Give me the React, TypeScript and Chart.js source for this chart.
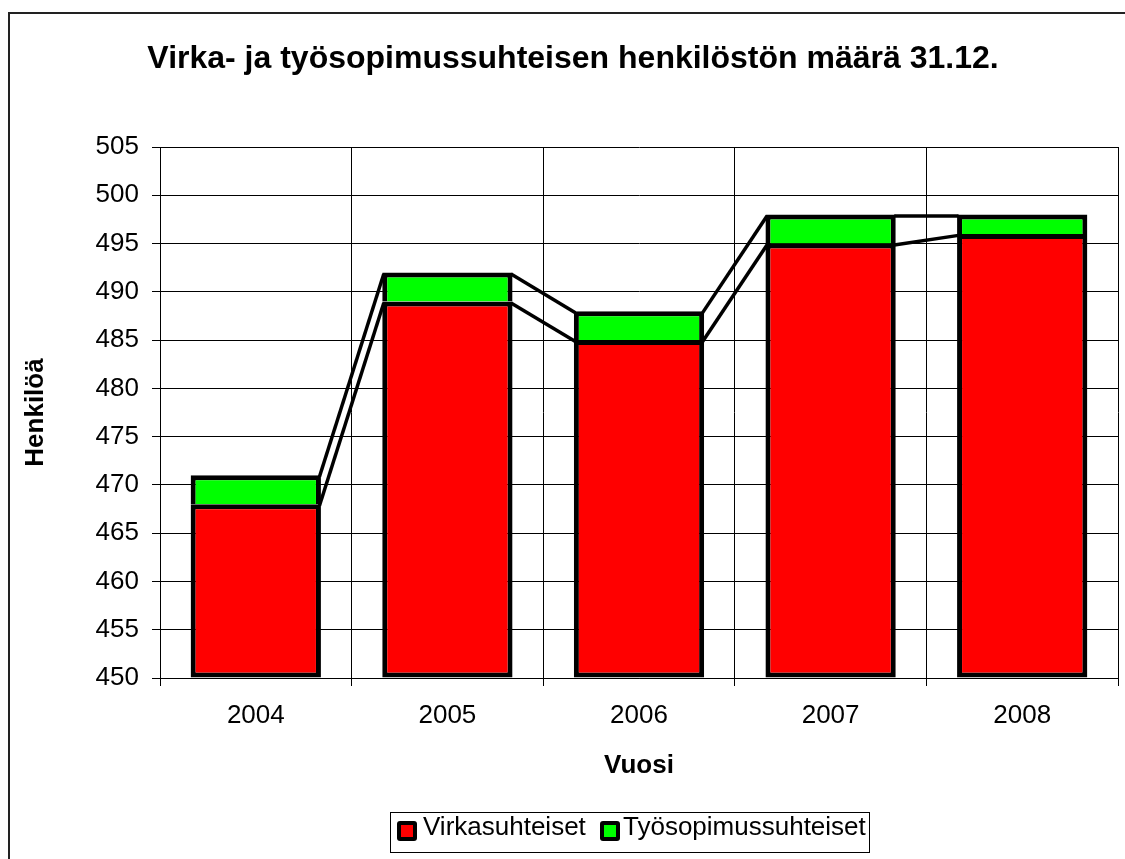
import React, { useEffect, useRef } from "react";
import { Chart, registerables } from "chart.js";

Chart.register(...registerables);

const years = ["2004", "2005", "2006", "2007", "2008"];
const virkasuhteiset = [468, 489, 485, 495, 496];
const tyosopimussuhteiset = [3, 3, 3, 3, 2];
const seriesNames = ["Virkasuhteiset", "Työsopimussuhteiset"];
const seriesColors = ["#FF0000", "#00FF00"];
const chartTitle = "Virka- ja työsopimussuhteisen henkilöstön määrä 31.12.";
const yTitle = "Henkilöä";
const xTitle = "Vuosi";
const yMin = 450;
const yMax = 505;
const yStep = 5;

const FAMILY = "'Liberation Sans', Arial, sans-serif";

const seriesLinesPlugin = {
  id: "seriesLines",
  afterDatasetsDraw(chart: any) {
    const ctx = chart.ctx;
    ctx.save();
    ctx.strokeStyle = "#000";
    ctx.lineWidth = 3.5;
    ctx.lineJoin = "round";
    chart.data.datasets.forEach((_ds: any, i: number) => {
      const els = chart.getDatasetMeta(i).data;
      for (let j = 0; j < els.length - 1; j++) {
        const a = els[j];
        const b = els[j + 1];
        ctx.beginPath();
        ctx.moveTo(a.x + a.width / 2 - 1.5, a.y + 1.5);
        ctx.lineTo(b.x - b.width / 2 + 1.5, b.y + 1.5);
        ctx.stroke();
      }
    });
    ctx.restore();
  },
};

const decorPlugin = {
  id: "decor",
  beforeDraw(chart: any) {
    const ctx = chart.ctx;
    ctx.save();
    ctx.fillStyle = "#fff";
    ctx.fillRect(0, 0, chart.width, chart.height);
    ctx.strokeStyle = "#222";
    ctx.lineWidth = 2;
    ctx.strokeRect(9, 13, chart.width + 20, chart.height + 20);
    ctx.restore();
  },
  afterDraw(chart: any) {
    const ctx = chart.ctx;
    ctx.save();
    // title
    ctx.fillStyle = "#000";
    ctx.font = `bold 32px ${FAMILY}`;
    ctx.textAlign = "center";
    ctx.textBaseline = "alphabetic";
    ctx.fillText(chartTitle, 573, 68);

    // legend
    ctx.strokeStyle = "#000";
    ctx.lineWidth = 1;
    ctx.strokeRect(390.5, 812.5, 479, 40);
    ctx.font = `26px ${FAMILY}`;
    ctx.textAlign = "left";
    const items = [
      { x: 397, tx: 423 },
      { x: 600, tx: 623 },
    ];
    items.forEach((it, i) => {
      ctx.fillStyle = "#000";
      ctx.beginPath();
      (ctx as any).roundRect(it.x, 821, 20, 20, 3);
      ctx.fill();
      ctx.fillStyle = seriesColors[i];
      ctx.fillRect(it.x + 4, 825, 12, 12);
      ctx.fillStyle = "#000";
      ctx.fillText(seriesNames[i], it.tx, 835);
    });
    ctx.restore();
  },
};

export default function App() {
  const ref = useRef<HTMLCanvasElement>(null);

  useEffect(() => {
    if (!ref.current) return;
    const tickFont = { family: FAMILY, size: 26 };
    const titleFont = { family: FAMILY, size: 26, weight: "bold" as const };
    const chart = new Chart(ref.current, {
      type: "bar",
      data: {
        labels: years,
        datasets: [
          {
            label: seriesNames[0],
            data: virkasuhteiset,
            backgroundColor: seriesColors[0],
            borderColor: "#000",
            borderWidth: 5,
            borderSkipped: false,
            base: yMin,
            barPercentage: 0.68,
            categoryPercentage: 1,
          } as any,
          {
            label: seriesNames[1],
            data: tyosopimussuhteiset,
            backgroundColor: seriesColors[1],
            borderColor: "#000",
            borderWidth: 5,
            borderSkipped: "bottom",
            barPercentage: 0.68,
            categoryPercentage: 1,
          } as any,
        ],
      },
      options: {
        responsive: false,
        animation: false,
        devicePixelRatio: 1,
        layout: { padding: { top: 147, left: 8, right: 7, bottom: 78 } },
        plugins: {
          legend: { display: false },
          title: { display: false },
          tooltip: { enabled: false },
        },
        scales: {
          x: {
            stacked: true,
            grid: { color: "#000", lineWidth: 1, tickLength: 8, offset: true },
            border: { color: "#000", width: 1 },
            ticks: { color: "#000", font: tickFont, padding: 14 },
            title: {
              display: true,
              text: xTitle,
              color: "#000",
              font: titleFont,
              padding: { top: 0, bottom: 0 },
            },
            afterFit: (s: any) => {
              s.height = 103;
            },
          },
          y: {
            stacked: true,
            min: yMin,
            max: yMax,
            grid: { color: "#000", lineWidth: 1, tickLength: 8 },
            border: { color: "#000", width: 1 },
            ticks: { stepSize: yStep, color: "#000", font: tickFont, padding: 13 },
            title: {
              display: true,
              text: yTitle,
              color: "#000",
              font: titleFont,
              padding: { top: 12, bottom: 0 },
            },
            afterFit: (s: any) => {
              s.width = 152;
            },
          },
        },
      } as any,
      plugins: [seriesLinesPlugin, decorPlugin],
    });
    return () => chart.destroy();
  }, []);

  return (
    <div
      style={{
        position: "fixed",
        left: 0,
        top: 0,
        width: 1125,
        height: 859,
        overflow: "hidden",
        background: "#fff",
      }}
    >
      <canvas ref={ref} width={1125} height={859} style={{ display: "block" }} />
    </div>
  );
}
